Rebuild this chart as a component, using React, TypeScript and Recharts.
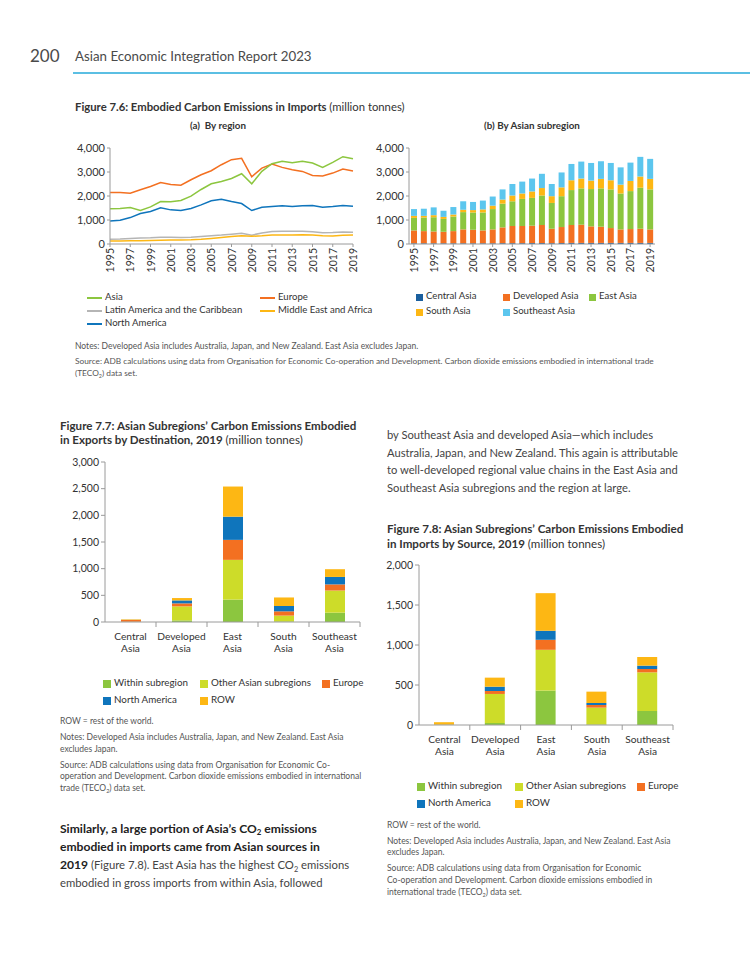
import React from 'react';
import { LineChart, Line, BarChart, Bar, XAxis, YAxis } from 'recharts';

// Figure 7.6 (a) imports by region, million tonnes
const years = [
  '1995', '1996', '1997', '1998', '1999', '2000', '2001', '2002', '2003', '2004', '2005', '2006', '2007',
  '2008', '2009', '2010', '2011', '2012', '2013', '2014', '2015', '2016', '2017', '2018', '2019',
];
const asia = [
  1464, 1478, 1520, 1394, 1547, 1770, 1756, 1812, 1993, 2272, 2509, 2607, 2732,
  2927, 2509, 3025, 3346, 3443, 3387, 3443, 3373, 3192, 3401, 3638, 3555,
];
const europe = [
  2147, 2147, 2119, 2258, 2398, 2565, 2481, 2453, 2677, 2886, 3053, 3304, 3513,
  3569, 2802, 3164, 3332, 3192, 3095, 3025, 2858, 2830, 2955, 3123, 3039,
];
const latinAmerica = [
  200, 210, 230, 250, 260, 280, 280, 270, 280, 310, 340, 370, 410,
  450, 370, 460, 520, 530, 530, 530, 510, 470, 480, 500, 490,
];
const middleEastAfrica = [
  125, 130, 135, 140, 150, 160, 165, 170, 175, 195, 230, 270, 310,
  340, 320, 340, 370, 380, 370, 390, 370, 340, 330, 360, 370,
];
const northAmerica = [
  962, 990, 1101, 1269, 1352, 1506, 1422, 1394, 1478, 1631, 1798, 1868, 1770,
  1687, 1394, 1533, 1561, 1589, 1561, 1589, 1603, 1533, 1561, 1603, 1575,
];

// Figure 7.6 (b) imports by Asian subregion
const centralAsia = [
  30, 30, 30, 30, 30, 30, 30, 30, 30, 35, 35, 35, 40,
  40, 35, 40, 45, 45, 45, 45, 45, 45, 45, 45, 45,
];
const developedAsia = [
  535, 507, 493, 479, 507, 578, 563, 535, 578, 657, 714, 714, 723,
  751, 601, 667, 746, 760, 690, 675, 619, 563, 577, 591, 563,
];
const eastAsia = [
  523, 565, 593, 537, 608, 720, 721, 749, 847, 989, 1031, 1130, 1159,
  1230, 1074, 1285, 1456, 1512, 1554, 1597, 1611, 1497, 1582, 1710, 1667,
];
const southAsia = [
  85, 71, 85, 84, 84, 99, 99, 127, 142, 170, 241, 226, 268,
  310, 282, 368, 409, 410, 353, 396, 381, 368, 424, 466, 438,
];
const southeastAsia = [
  282, 297, 325, 255, 311, 353, 339, 368, 381, 424, 480, 495, 537,
  594, 509, 621, 679, 707, 735, 735, 721, 720, 763, 819, 834,
];

// Figures 7.7 and 7.8, 2019
const subregions = ['Central Asia', 'Developed Asia', 'East Asia', 'South Asia', 'Southeast Asia'];
const expWithin = [2, 30, 420, 10, 175];
const expOtherAsian = [3, 263, 745, 110, 415];
const expEurope = [33, 56, 375, 80, 115];
const expNorthAmerica = [2, 56, 435, 100, 140];
const expRow = [10, 44, 565, 160, 145];

const impWithin = [1, 25, 430, 5, 175];
const impOtherAsian = [1, 363, 510, 212, 483];
const impEurope = [1, 37, 125, 33, 42];
const impNorthAmerica = [1, 54, 113, 25, 42];
const impRow = [31, 113, 470, 142, 108];

const FONT = 'Lato, "Open Sans", sans-serif';
const AXIS = '#9a9a9a';
const INK = '#333';
const NOTE = '#555';

const GREEN = '#8cc63f';
const ORANGE = '#f37021';
const GREY = '#b5b5b5';
const YELLOW = '#fdb714';
const BLUE = '#0f75bc';
const DARKBLUE = '#1a5f9e';
const LIGHTBLUE = '#5cc6ee';
const LIME = '#cddc29';

const regionData = years.map((y, i) => ({
  year: y,
  asia: asia[i],
  europe: europe[i],
  latinAmerica: latinAmerica[i],
  middleEastAfrica: middleEastAfrica[i],
  northAmerica: northAmerica[i],
}));

const subregionData = years.map((y, i) => ({
  year: y,
  central: centralAsia[i],
  developed: developedAsia[i],
  east: eastAsia[i],
  south: southAsia[i],
  southeast: southeastAsia[i],
}));

const exportData = subregions.map((s, i) => ({
  name: s,
  within: expWithin[i],
  other: expOtherAsian[i],
  europe: expEurope[i],
  na: expNorthAmerica[i],
  row: expRow[i],
}));

const importData = subregions.map((s, i) => ({
  name: s,
  within: impWithin[i],
  other: impOtherAsian[i],
  europe: impEurope[i],
  na: impNorthAmerica[i],
  row: impRow[i],
}));

const fmt = (v: number) => v.toLocaleString('en-US');

const T = ({ x, y, fs = 11, bold = false, color = INK, children, anchor }: any) => (
  <div
    style={{
      position: 'absolute',
      left: x,
      top: y - fs * 0.58,
      fontSize: fs,
      lineHeight: `${fs}px`,
      fontWeight: bold ? 700 : 400,
      color,
      whiteSpace: 'nowrap',
      fontFamily: FONT,
      transform: anchor === 'middle' ? 'translateX(-50%)' : undefined,
    }}
  >
    {children}
  </div>
);

const Sub2 = () => <span style={{ fontSize: '0.65em', position: 'relative', top: '0.3em' }}>2</span>;

const yearTick = (axisY: number) => (props: any) => {
  const { x, payload } = props;
  const y = axisY + 4;
  return (
    <text
      x={x}
      y={y}
      transform={`rotate(-90 ${x} ${y})`}
      textAnchor="end"
      dominantBaseline="central"
      fontSize={10.5}
      fill={INK}
      fontFamily={FONT}
    >
      {payload.value}
    </text>
  );
};

const catTick = (band: number, axisY: number) => (props: any) => {
  const { x, payload } = props;
  const words = String(payload.value).split(' ');
  return (
    <g>
      <line x1={x + band / 2} x2={x + band / 2} y1={axisY} y2={axisY + 5} stroke={AXIS} />
      {words.map((w, i) => (
        <text key={i} x={x} y={axisY + 18 + i * 12} textAnchor="middle" fontSize={10.2} fill={INK} fontFamily={FONT}>
          {w}
        </text>
      ))}
    </g>
  );
};

const LineKey = ({ x, y, color, label }: any) => (
  <>
    <div style={{ position: 'absolute', left: x, top: y - 0.75, width: 15, height: 1.5, background: color }} />
    <T x={x + 18} y={y} fs={9.6}>{label}</T>
  </>
);

const BoxKey = ({ x, y, color, label, fs = 9.6, size = 7 }: any) => (
  <>
    <div style={{ position: 'absolute', left: x, top: y - size / 2, width: size, height: size, background: color }} />
    <T x={x + size + 3} y={y} fs={fs}>{label}</T>
  </>
);

const bigTick = { fontSize: 11, fill: INK, fontFamily: FONT };
const yTickStyle = { fontSize: 10.5, fill: INK, fontFamily: FONT };

const App = () => {
  return (
    <div style={{ position: 'absolute', left: 0, top: 0, width: 750, height: 971, background: '#fff', fontFamily: FONT }}>
      {/* page header */}
      <T x={30} y={57} fs={17} color="#4a4a4a">200</T>
      <T x={75} y={58} fs={13.3} color="#4a4a4a">Asian Economic Integration Report 2023</T>
      <div style={{ position: 'absolute', left: 73, top: 72, width: 677, height: 2, background: '#5bbfe3' }} />

      {/* Figure 7.6 */}
      <T x={75} y={108} fs={11.3} bold>
        Figure 7.6: Embodied Carbon Emissions in Imports <span style={{ fontWeight: 400 }}>(million tonnes)</span>
      </T>
      <T x={218} y={127} fs={9.8} bold anchor="middle">(a)&nbsp; By region</T>
      <T x={532} y={127} fs={9.8} bold anchor="middle">(b) By Asian subregion</T>

      <div style={{ position: 'absolute', left: 60, top: 135 }}>
        <LineChart width={300} height={145} data={regionData} margin={{ top: 13, right: 7, left: 8, bottom: 0 }}>
          <XAxis
            dataKey="year"
            interval={1}
            height={36}
            stroke={AXIS}
            tickSize={3}
            tick={yearTick(109)}
          />
          <YAxis
            domain={[0, 4000]}
            ticks={[0, 1000, 2000, 3000, 4000]}
            width={42}
            stroke={AXIS}
            tickSize={3}
            tick={bigTick}
            tickFormatter={fmt}
          />
          <Line dataKey="latinAmerica" stroke={GREY} strokeWidth={1.5} dot={false} isAnimationActive={false} />
          <Line dataKey="middleEastAfrica" stroke={YELLOW} strokeWidth={1.5} dot={false} isAnimationActive={false} />
          <Line dataKey="northAmerica" stroke={BLUE} strokeWidth={1.5} dot={false} isAnimationActive={false} />
          <Line dataKey="europe" stroke={ORANGE} strokeWidth={1.5} dot={false} isAnimationActive={false} />
          <Line dataKey="asia" stroke={GREEN} strokeWidth={1.5} dot={false} isAnimationActive={false} />
        </LineChart>
      </div>

      <div style={{ position: 'absolute', left: 370, top: 135 }}>
        <BarChart width={300} height={145} data={subregionData} margin={{ top: 13, right: 15, left: 4, bottom: 0 }}>
          <XAxis
            dataKey="year"
            interval={1}
            height={36}
            stroke={AXIS}
            tickSize={3}
            tick={yearTick(109)}
          />
          <YAxis
            domain={[0, 4000]}
            ticks={[0, 1000, 2000, 3000, 4000]}
            width={35}
            stroke={AXIS}
            tickSize={3}
            tick={bigTick}
            tickFormatter={fmt}
          />
          <Bar dataKey="central" stackId="s" fill={DARKBLUE} barSize={6} isAnimationActive={false} />
          <Bar dataKey="developed" stackId="s" fill={ORANGE} barSize={6} isAnimationActive={false} />
          <Bar dataKey="east" stackId="s" fill={GREEN} barSize={6} isAnimationActive={false} />
          <Bar dataKey="south" stackId="s" fill={YELLOW} barSize={6} isAnimationActive={false} />
          <Bar dataKey="southeast" stackId="s" fill={LIGHTBLUE} barSize={6} isAnimationActive={false} />
        </BarChart>
      </div>

      <LineKey x={87} y={298} color={GREEN} label="Asia" />
      <LineKey x={87} y={311} color={GREY} label="Latin America and the Caribbean" />
      <LineKey x={87} y={324} color={BLUE} label="North America" />
      <LineKey x={260} y={298} color={ORANGE} label="Europe" />
      <LineKey x={260} y={311} color={YELLOW} label="Middle East and Africa" />

      <BoxKey x={416} y={297} color={DARKBLUE} label="Central Asia" />
      <BoxKey x={503} y={297} color={ORANGE} label="Developed Asia" />
      <BoxKey x={589} y={297} color={GREEN} label="East Asia" />
      <BoxKey x={416} y={312} color={YELLOW} label="South Asia" />
      <BoxKey x={503} y={312} color={LIGHTBLUE} label="Southeast Asia" />

      <T x={75} y={347} fs={8.5} color={NOTE}>
        Notes: Developed Asia includes Australia, Japan, and New Zealand. East Asia excludes Japan.
      </T>
      <T x={75} y={362} fs={8.3} color={NOTE}>
        Source: ADB calculations using data from Organisation for Economic Co-operation and Development. Carbon dioxide emissions embodied in international trade
      </T>
      <T x={75} y={374} fs={8.3} color={NOTE}>
        (TECO<Sub2 />) data set.
      </T>

      {/* Figure 7.7 */}
      <T x={60} y={427} fs={11.6} bold>Figure 7.7: Asian Subregions’ Carbon Emissions Embodied</T>
      <T x={60} y={441} fs={11.6} bold>
        in Exports by Destination, 2019 <span style={{ fontWeight: 400 }}>(million tonnes)</span>
      </T>

      <div style={{ position: 'absolute', left: 55, top: 450 }}>
        <BarChart width={315} height={210} data={exportData} margin={{ top: 12, right: 10, left: 6, bottom: 0 }}>
          <XAxis dataKey="name" height={38} stroke={AXIS} tickLine={false} interval={0} tick={catTick(51, 172)} />
          <YAxis
            domain={[0, 3000]}
            ticks={[0, 500, 1000, 1500, 2000, 2500, 3000]}
            width={44}
            stroke={AXIS}
            tickSize={4}
            tick={yTickStyle}
            tickFormatter={fmt}
          />
          <Bar dataKey="within" stackId="e" fill={GREEN} barSize={20} isAnimationActive={false} />
          <Bar dataKey="other" stackId="e" fill={LIME} barSize={20} isAnimationActive={false} />
          <Bar dataKey="europe" stackId="e" fill={ORANGE} barSize={20} isAnimationActive={false} />
          <Bar dataKey="na" stackId="e" fill={BLUE} barSize={20} isAnimationActive={false} />
          <Bar dataKey="row" stackId="e" fill={YELLOW} barSize={20} isAnimationActive={false} />
        </BarChart>
      </div>

      <BoxKey x={103} y={684} color={GREEN} label="Within subregion" fs={9.8} size={8} />
      <BoxKey x={200} y={684} color={LIME} label="Other Asian subregions" fs={9.8} size={8} />
      <BoxKey x={322} y={684} color={ORANGE} label="Europe" fs={9.8} size={8} />
      <BoxKey x={103} y={701} color={BLUE} label="North America" fs={9.8} size={8} />
      <BoxKey x={200} y={701} color={YELLOW} label="ROW" fs={9.8} size={8} />

      <T x={60} y={722} fs={8.5} color={NOTE}>ROW = rest of the world.</T>
      <T x={60} y={738} fs={8.5} color={NOTE}>Notes: Developed Asia includes Australia, Japan, and New Zealand. East Asia</T>
      <T x={60} y={750} fs={8.5} color={NOTE}>excludes Japan.</T>
      <T x={60} y={766} fs={8.5} color={NOTE}>Source: ADB calculations using data from Organisation for Economic Co-</T>
      <T x={60} y={777} fs={8.5} color={NOTE}>operation and Development. Carbon dioxide emissions embodied in international</T>
      <T x={60} y={789} fs={8.5} color={NOTE}>trade (TECO<Sub2 />) data set.</T>

      {/* body text left */}
      <T x={60} y={830} fs={12.1} bold color="#222">Similarly, a large portion of Asia’s CO<Sub2 /> emissions</T>
      <T x={60} y={848} fs={12.1} bold color="#222">embodied in imports came from Asian sources in</T>
      <T x={60} y={866} fs={11.3} color="#444">
        <span style={{ fontWeight: 700, color: '#222', fontSize: 12.1 }}>2019</span> (Figure 7.8). East Asia has the highest CO<Sub2 /> emissions
      </T>
      <T x={60} y={884} fs={11.3} color="#444">embodied in gross imports from within Asia, followed</T>

      {/* body text right */}
      <T x={387} y={435} fs={11.2} color="#444">by Southeast Asia and developed Asia—which includes</T>
      <T x={387} y={453} fs={11.2} color="#444">Australia, Japan, and New Zealand. This again is attributable</T>
      <T x={387} y={470} fs={11.2} color="#444">to well-developed regional value chains in the East Asia and</T>
      <T x={387} y={488} fs={11.2} color="#444">Southeast Asia subregions and the region at large.</T>

      {/* Figure 7.8 */}
      <T x={387} y={530} fs={11.6} bold>Figure 7.8: Asian Subregions’ Carbon Emissions Embodied</T>
      <T x={387} y={545} fs={11.6} bold>
        in Imports by Source, 2019 <span style={{ fontWeight: 400 }}>(million tonnes)</span>
      </T>

      <div style={{ position: 'absolute', left: 375, top: 553 }}>
        <BarChart width={308} height={212} data={importData} margin={{ top: 12, right: 10, left: 6, bottom: 0 }}>
          <XAxis dataKey="name" height={40} stroke={AXIS} tickLine={false} interval={0} tick={catTick(50.8, 172)} />
          <YAxis
            domain={[0, 2000]}
            ticks={[0, 500, 1000, 1500, 2000]}
            width={38}
            stroke={AXIS}
            tickSize={4}
            tick={yTickStyle}
            tickFormatter={fmt}
          />
          <Bar dataKey="within" stackId="i" fill={GREEN} barSize={20} isAnimationActive={false} />
          <Bar dataKey="other" stackId="i" fill={LIME} barSize={20} isAnimationActive={false} />
          <Bar dataKey="europe" stackId="i" fill={ORANGE} barSize={20} isAnimationActive={false} />
          <Bar dataKey="na" stackId="i" fill={BLUE} barSize={20} isAnimationActive={false} />
          <Bar dataKey="row" stackId="i" fill={YELLOW} barSize={20} isAnimationActive={false} />
        </BarChart>
      </div>

      <BoxKey x={417} y={787} color={GREEN} label="Within subregion" fs={9.8} size={8} />
      <BoxKey x={515} y={787} color={LIME} label="Other Asian subregions" fs={9.8} size={8} />
      <BoxKey x={637} y={787} color={ORANGE} label="Europe" fs={9.8} size={8} />
      <BoxKey x={417} y={804} color={BLUE} label="North America" fs={9.8} size={8} />
      <BoxKey x={515} y={804} color={YELLOW} label="ROW" fs={9.8} size={8} />

      <T x={387} y={826} fs={8.5} color={NOTE}>ROW = rest of the world.</T>
      <T x={387} y={842} fs={8.5} color={NOTE}>Notes: Developed Asia includes Australia, Japan, and New Zealand. East Asia</T>
      <T x={387} y={853} fs={8.5} color={NOTE}>excludes Japan.</T>
      <T x={387} y={869} fs={8.5} color={NOTE}>Source: ADB calculations using data from Organisation for Economic</T>
      <T x={387} y={881} fs={8.5} color={NOTE}>Co-operation and Development. Carbon dioxide emissions embodied in</T>
      <T x={387} y={893} fs={8.5} color={NOTE}>international trade (TECO<Sub2 />) data set.</T>
    </div>
  );
};

export default App;
